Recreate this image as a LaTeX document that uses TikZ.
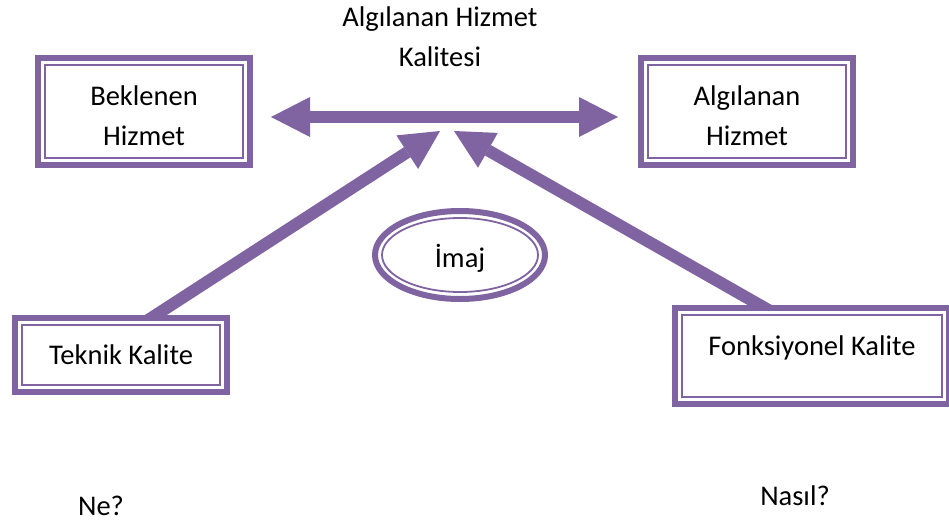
\documentclass[tikz,border=0pt]{standalone}
\usepackage{fontspec}
\setmainfont{Carlito}
\usetikzlibrary{arrows.meta,shapes.geometric}
\definecolor{purp}{HTML}{8064A2}
% a strut that lowers two-line box texts a little
\newcommand{\topgap}{\rule{0pt}{28pt}}
\begin{document}
\begin{tikzpicture}[x=1pt,y=-1pt,
  txt/.style={font=\fontsize{28.5}{39.5}\selectfont, inner sep=0pt, text=black},
  dbox/.style={txt, rectangle, draw=purp, line width=6pt, fill=white, align=center,
    path picture={\draw[purp, line width=1.8pt]
      ([shift={(7pt,-7pt)}]path picture bounding box.north west) rectangle
      ([shift={(-7pt,7pt)}]path picture bounding box.south east);}},
  doval/.style={txt, ellipse, draw=purp, line width=6pt, fill=white,
    path picture={\draw[purp, line width=1.8pt]
      (path picture bounding box.center) ellipse [x radius=78pt, y radius=37pt];}},
  bigarrow/.style={draw=purp, line width=12pt,
    -{Triangle[length=39pt, width=40pt, line width=0pt]}},
  bigboth/.style={draw=purp, line width=12pt,
    {Triangle[length=39pt, width=40pt, line width=0pt]}-{Triangle[length=39pt, width=40pt, line width=0pt]}}]

% page area
\clip (0,0) rectangle (949,522);
\fill[white] (0,0) rectangle (949,522);

% arrow end points
\coordinate (hl) at (271,117);
\coordinate (hr) at (618,117);
\coordinate (tipL) at (440,131);
\coordinate (tipR) at (454,131);
\coordinate (tailL) at (145,322);
\coordinate (tailR) at (772,312);

% arrows (drawn first, the boxes cover their tails)
\draw[bigboth] (hl) -- (hr);
\draw[bigarrow] (tailL) -- (tipL);
\draw[bigarrow] (tailR) -- (tipR);

% title
\node[txt, align=center, anchor=north] (title) at (440,7) {Algılanan Hizmet\\Kalitesi};

% boxes
\node[dbox, minimum width=212pt, minimum height=107pt] (bek) at (144,111.5) {\topgap Beklenen\\Hizmet};
\node[dbox, minimum width=212pt, minimum height=107pt] (alg) at (747,111.5) {\topgap Algılanan\\Hizmet};
\node[dbox, minimum width=212pt, minimum height=74pt] (tek) at (121,355) {Teknik Kalite};
\node[dbox, minimum width=274pt, minimum height=96pt, text height=20pt, text depth=22pt] (fonk) at (812,356) {Fonksiyonel Kalite};
\node[doval, minimum width=170pt, minimum height=88pt, text height=24pt, text depth=0pt] (imaj) at (460,255) {İmaj};

% questions
\node[txt, anchor=base] (ne) at (101,515) {Ne?};
\node[txt, anchor=base] (nasil) at (795,505) {Nasıl?};
\end{tikzpicture}
\end{document}
